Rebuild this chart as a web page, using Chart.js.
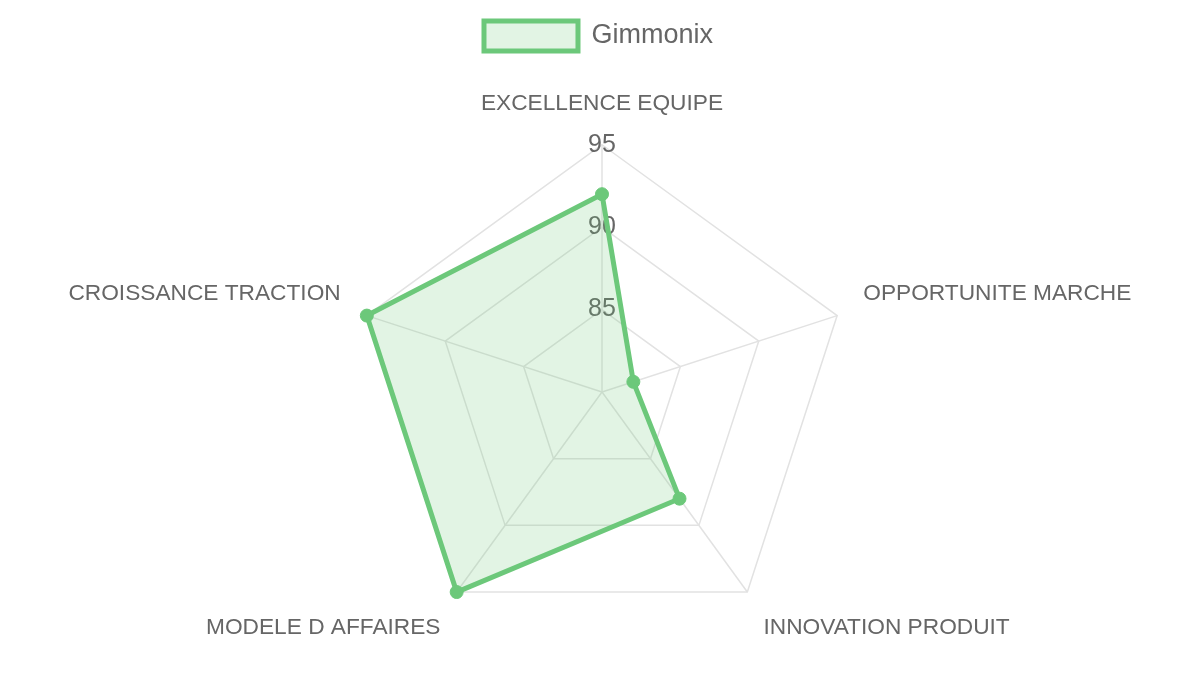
<!DOCTYPE html>
<html>
<head>
<meta charset="utf-8">
<script src="https://cdn.jsdelivr.net/npm/chart.js@4.4.1/dist/chart.umd.min.js"></script>
<style>
  html, body { margin: 0; padding: 0; background: #ffffff; }
  #wrap { width: 1200px; height: 675px; position: relative; }
</style>
</head>
<body>
<div id="wrap"><canvas id="c"></canvas></div>
<script>
const categories = ["EXCELLENCE EQUIPE", "OPPORTUNITE MARCHE", "INNOVATION PRODUIT", "MODELE D AFFAIRES", "CROISSANCE TRACTION"];
const seriesName = "Gimmonix";
const seriesValues = [92, 82, 88, 95, 95];
const scaleMin = 80;
const scaleMax = 95;
const tickStep = 5;

const green = "rgb(108, 200, 122)";
const greenFill = "rgba(108, 200, 122, 0.2)";
const fontFamily = "'Liberation Sans', Arial, Helvetica, sans-serif";

// small layout helper: extra space below the legend, and a slight leftward nudge of the legend row
const legendSpacer = {
  id: "legendSpacer",
  afterInit(chart) {
    const lg = chart.legend;
    if (!lg) return;
    const origFit = lg.fit.bind(lg);
    lg.fit = function () { origFit(); this.height += 9; };
  },
  afterLayout(chart) {
    const lg = chart.legend;
    if (lg) { lg.right -= 7; }
  }
};

new Chart(document.getElementById("c"), {
  type: "radar",
  data: {
    labels: categories,
    datasets: [{
      label: seriesName,
      data: seriesValues,
      borderColor: green,
      backgroundColor: greenFill,
      borderWidth: 5,
      pointBackgroundColor: green,
      pointBorderColor: green,
      pointRadius: 6.5,
      pointBorderWidth: 1,
      fill: true
    }]
  },
  plugins: [legendSpacer],
  options: {
    responsive: true,
    maintainAspectRatio: false,
    animation: false,
    layout: { padding: { top: 11, bottom: 0, left: 4, right: 0 } },
    plugins: {
      legend: {
        display: true,
        position: "top",
        labels: {
          boxWidth: 94,
          boxHeight: 30,
          color: "#666666",
          font: { family: fontFamily, size: 27 },
          padding: 10
        }
      },
      tooltip: { enabled: false }
    },
    scales: {
      r: {
        min: scaleMin,
        max: scaleMax,
        ticks: {
          stepSize: tickStep,
          color: "#666666",
          font: { family: fontFamily, size: 25 },
          showLabelBackdrop: false,
          backdropPadding: 2
        },
        grid: { color: "#e2e2e2", lineWidth: 1.5 },
        angleLines: { color: "#e2e2e2", lineWidth: 1.5 },
        pointLabels: {
          color: "#666666",
          font: { family: fontFamily, size: 22.7 },
          padding: 13
        }
      }
    }
  }
});
</script>
</body>
</html>
